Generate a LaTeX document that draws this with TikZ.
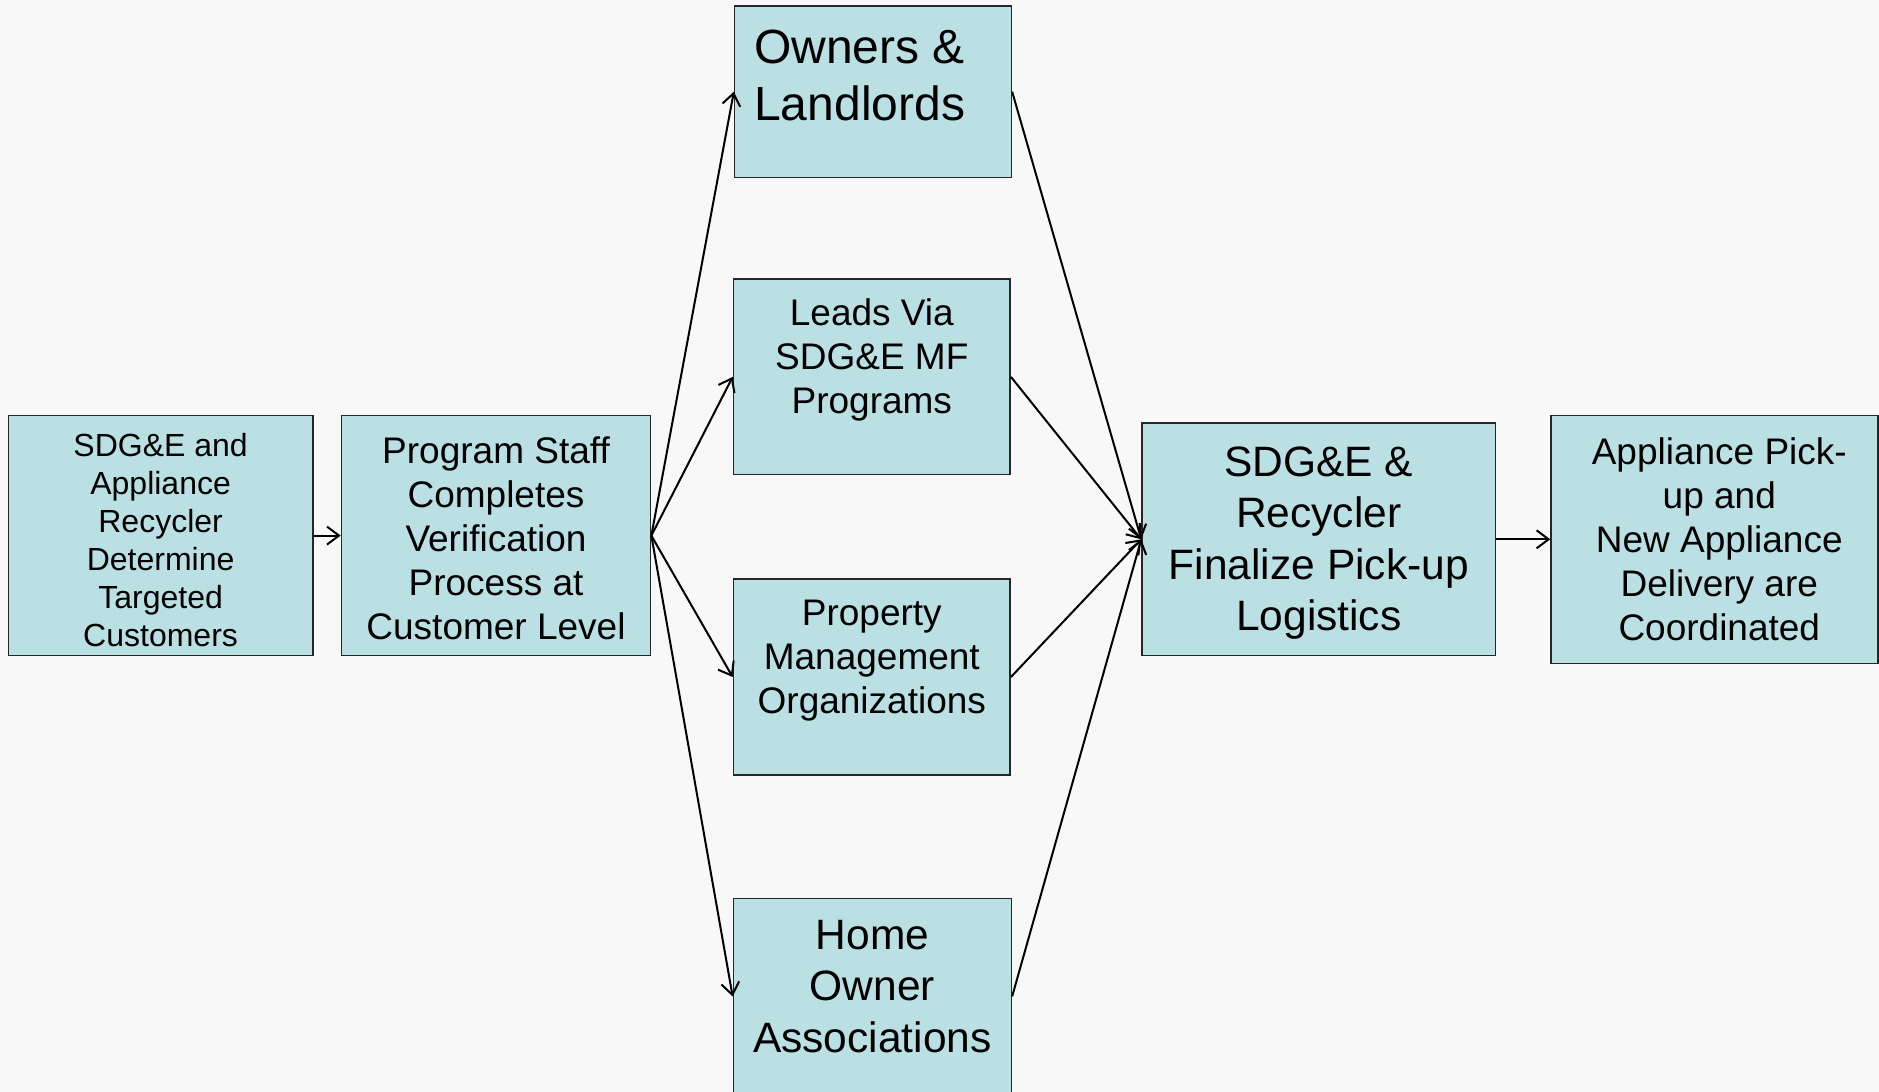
\documentclass[tikz,border=0pt]{standalone}
\usepackage{fontspec}
\setmainfont{Liberation Sans}
\usetikzlibrary{arrows.meta}

\definecolor{boxfill}{RGB}{187,224,228}
\definecolor{paper}{RGB}{248,248,248}

\begin{document}
\begin{tikzpicture}[x=0.5pt,y=-0.5pt,
  box/.style={rectangle,draw=black!85,line width=0.75pt,fill=boxfill,inner sep=0pt},
  txt/.style={align=center,inner sep=0pt},
  txtS/.style={font=\fontsize{16}{19}\selectfont},
  txtM/.style={font=\fontsize{18.5}{22}\selectfont},
  txtL/.style={font=\fontsize{21.25}{25.75}\selectfont},
  txtXL/.style={font=\fontsize{24}{28.75}\selectfont},
  flow/.style={-{Straight Barb[length=6pt,width=9pt]},line width=1pt}]
\fill[paper] (0,0) rectangle (1879,1092);
\useasboundingbox (0,0) rectangle (1879,1092);

% first two steps
\node [box,minimum width=152.2pt,minimum height=119.9pt] (targets) at (160.6,535.6) {};
\node [txt,txtS] (targets-t) at ([yshift=-2.4pt]targets.center)
  {SDG\&E and\\Appliance\\Recycler\\Determine\\Targeted\\Customers};
\node [box,minimum width=154.6pt,minimum height=119.9pt] (verify) at (496,535.6) {};
\node [txt,txtM] (verify-t) at ([yshift=-1.4pt]verify.center)
  {Program Staff\\Completes\\Verification\\Process at\\Customer Level};

% the four customer channels
\node [box,minimum width=138.4pt,minimum height=85.7pt] (owners) at (873,91.7) {};
\node [txt,txtXL,align=left,anchor=west] (owners-t) at ([xshift=10pt,yshift=8pt]owners.west)
  {Owners \&\\Landlords};
\node [box,minimum width=138.4pt,minimum height=97.7pt] (leads) at (871.8,376.9) {};
\node [txt,txtM] (leads-t) at ([yshift=8.7pt]leads.center) {Leads Via\\SDG\&E MF\\Programs};
\node [box,minimum width=138.4pt,minimum height=98.2pt] (property) at (871.8,677) {};
\node [txt,txtM] (property-t) at ([yshift=8pt]property.center) {Property\\Management\\Organizations};
\node [box,minimum width=139pt,minimum height=97.7pt] (home) at (872.4,996.4) {};
\node [txt,txtL] (home-t) at ([yshift=5pt]home.center) {Home\\Owner\\Associations};

% last two steps
\node [box,minimum width=176.8pt,minimum height=116.3pt] (logistics) at (1318.8,539.3) {};
\node [txt,txtL] (logistics-t) at ([yshift=-1.8pt]logistics.center)
  {SDG\&E \&\\Recycler\\Finalize Pick-up\\Logistics};
\node [box,minimum width=163.5pt,minimum height=124pt] (pickup) at (1714.5,539.3) {};
\node [txt,txtM] (pickup-t) at ([xshift=2.4pt]pickup.center)
  {Appliance Pick-\\up and\\New Appliance\\Delivery are\\Coordinated};

% connectors
\draw [flow] (targets.east) -- (verify.west);
\foreach \n in {owners,leads,property,home} {
  \draw [flow] (verify.east) -- (\n.west);
  \draw [flow] (\n.east) -- (logistics.west);
}
\draw [flow] (logistics.east) -- (pickup.west);
\end{tikzpicture}
\end{document}
